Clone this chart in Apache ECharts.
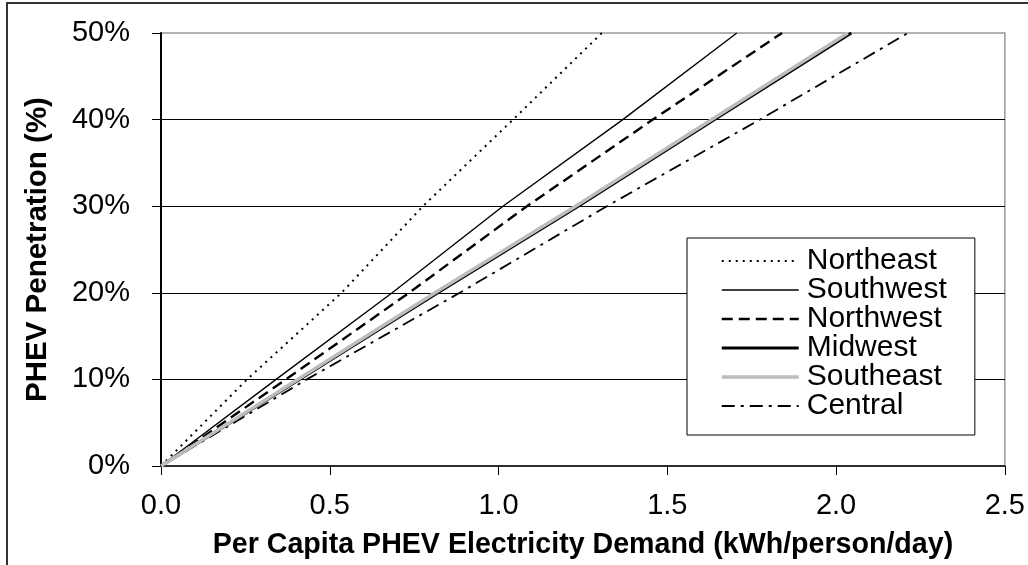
<!DOCTYPE html>
<html>
<head>
<meta charset="utf-8">
<script src="https://cdn.jsdelivr.net/npm/echarts@6/dist/echarts.min.js"></script>
<style>
html,body{margin:0;padding:0;background:#fff;}
#chart{width:1028px;height:565px;}
</style>
</head>
<body>
<div id="chart"></div>
<script>
// Per capita demand (kWh/person/day) at penetration levels (%)
const penetration = [0, 10, 20, 30, 40, 50];
const northeast = [0, 0.255, 0.535, 0.776, 1.043, 1.306];
const southwest = [0, 0.341, 0.685, 1.013, 1.368, 1.706];
const northwest = [0, 0.370, 0.735, 1.084, 1.457, 1.840];
const midwest   = [0, 0.410, 0.820, 1.236, 1.640, 2.045];
const southeast = [0, 0.405, 0.812, 1.228, 1.632, 2.035];
const central   = [0, 0.432, 0.885, 1.321, 1.774, 2.213];
const xTicks = [0, 0.5, 1.0, 1.5, 2.0, 2.5];
const yTicks = [0, 10, 20, 30, 40, 50];

const FONT = '"Liberation Sans", Arial, sans-serif';
function pts(xs) { return xs.map((x, i) => [x, penetration[i]]); }

const styles = {
  Northeast: {color: '#000', width: 2, type: [2, 5]},
  Southwest: {color: '#000', width: 1.4, type: 'solid'},
  Northwest: {color: '#000', width: 2.4, type: [11, 6]},
  Midwest:   {color: '#000', width: 3, type: 'solid'},
  Southeast: {color: '#bdbdbd', width: 3.5, type: 'solid'},
  Central:   {color: '#000', width: 1.8, type: [13, 6, 3, 6]}
};
const seriesData = [
  ['Northeast', northeast],
  ['Southwest', southwest],
  ['Northwest', northwest],
  ['Midwest', midwest],
  ['Southeast', southeast],
  ['Central', central]
];

const chart = echarts.init(document.getElementById('chart'));
chart.setOption({
  animation: false,
  backgroundColor: '#fff',
  textStyle: {fontFamily: FONT},
  grid: {left: 161, right: 23, top: 33, bottom: 99, show: true, borderColor: '#999', borderWidth: 1.5, backgroundColor: 'transparent'},
  xAxis: {
    type: 'value', min: 0, max: 2.5, interval: 0.5,
    name: 'Per Capita PHEV Electricity Demand (kWh/person/day)',
    nameLocation: 'middle', nameGap: 65,
    nameTextStyle: {fontFamily: FONT, fontSize: 28.6, fontWeight: 'bold', color: '#000'},
    axisLine: {show: true, lineStyle: {color: '#000', width: 1.5}},
    axisTick: {show: true, inside: false, length: 9, lineStyle: {color: '#000', width: 1}},
    axisLabel: {margin: 25, fontFamily: FONT, fontSize: 29, color: '#000', formatter: v => v.toFixed(1)},
    splitLine: {show: false}
  },
  yAxis: {
    type: 'value', min: 0, max: 50, interval: 10,
    name: 'PHEV Penetration (%)',
    nameLocation: 'middle', nameGap: 108, nameRotate: 90,
    nameTextStyle: {fontFamily: FONT, fontSize: 29.5, fontWeight: 'bold', color: '#000'},
    axisLine: {show: true, lineStyle: {color: '#000', width: 2}},
    axisTick: {show: true, inside: false, length: 9, lineStyle: {color: '#000', width: 1}},
    axisLabel: {margin: 31, fontFamily: FONT, fontSize: 29, color: '#000', formatter: v => v + '%'},
    splitLine: {show: true, showMinLine: false, showMaxLine: false, lineStyle: {color: '#000', width: 1}}
  },
  legend: {
    orient: 'vertical',
    left: 687, top: 238,
    backgroundColor: '#fff',
    borderColor: '#000', borderWidth: 1,
    padding: [8, 28, 14, 33],
    itemWidth: 77, itemHeight: 14, itemGap: -1,
    itemStyle: {color: 'transparent', borderWidth: 0, opacity: 0},
    textStyle: {fontFamily: FONT, fontSize: 30, color: '#000', padding: [0, 0, 0, 3]},
    data: seriesData.map(([n]) => ({
      name: n,
      itemStyle: {color: 'transparent', borderWidth: 0, opacity: 0},
      lineStyle: {color: styles[n].color, width: styles[n].width, type: styles[n].type, opacity: 1}
    }))
  },
  graphic: [{
    type: 'polyline', silent: true,
    shape: {points: [[7, 565], [7, 3], [1028, 3]]},
    style: {stroke: '#333', lineWidth: 2, fill: null}
  }],
  series: seriesData.map(([n, xs]) => ({
    name: n, type: 'line', data: pts(xs),
    symbol: 'none', showSymbol: false,
    lineStyle: {color: styles[n].color, width: styles[n].width, type: styles[n].type, cap: 'butt'},
    itemStyle: {color: styles[n].color},
    z: n === 'Southeast' ? 3 : 2
  }))
});
</script>
</body>
</html>
